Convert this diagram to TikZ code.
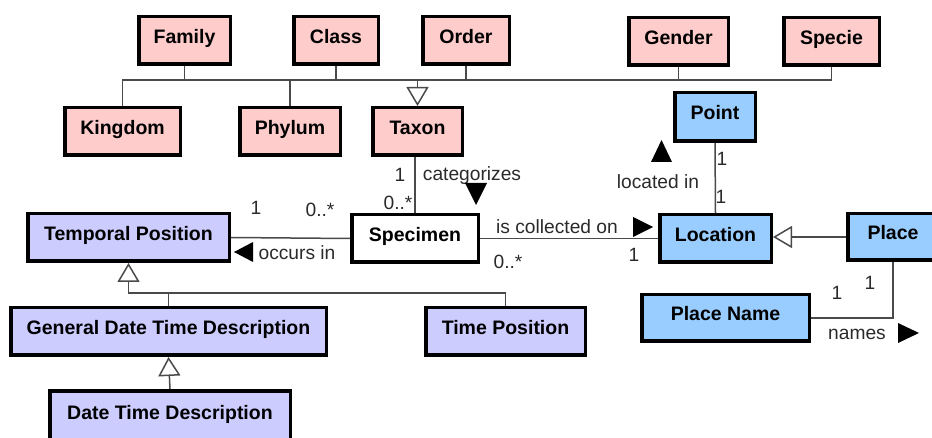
\documentclass[tikz,border=0pt]{standalone}
\usepackage{fontspec}
\setmainfont{Liberation Sans}
\usetikzlibrary{arrows.meta}
\definecolor{taxfill}{HTML}{FFCCCC}
\definecolor{geofill}{HTML}{99CCFF}
\definecolor{timefill}{HTML}{CCCCFF}
\definecolor{linkgray}{HTML}{4A4A4A}
\definecolor{labelgray}{HTML}{2A2A2A}

\begin{document}
\begin{tikzpicture}[x=1pt,y=-1pt,
  cls/.style={draw=black, line width=3.5pt, inner sep=0pt,
    font=\fontsize{19.5}{21}\selectfont\bfseries,
    text height=14pt, text depth=8pt, minimum height=47.5pt},
  taxcls/.style={cls, fill=taxfill},
  geocls/.style={cls, fill=geofill},
  timecls/.style={cls, fill=timefill},
  link/.style={draw=linkgray, line width=1.5pt},
  isa/.style={link, -{Triangle[length=19pt,width=22pt,fill=white]}},
  lbl/.style={anchor=base, inner sep=0pt, text=labelgray,
    font=\fontsize{19.2}{21}\selectfont},
  dirtip/.style={fill=black},
]
\useasboundingbox (0,0) rectangle (932,438);

% taxonomy classes
\node[taxcls, minimum width=91.5pt] (family)  at (184.5,40.5) {Family};
\node[taxcls, minimum width=84.5pt] (class)   at (336,40.5)   {Class};
\node[taxcls, minimum width=86.5pt] (order)   at (466,40.5)   {Order};
\node[taxcls, minimum width=99.5pt] (gender)  at (678.5,41.5) {Gender};
\node[taxcls, minimum width=95.5pt] (specie)  at (831.5,41.5) {Specie};
\node[taxcls, minimum width=115.5pt] (kingdom) at (122.5,131.5) {Kingdom};
\node[taxcls, minimum width=100.5pt] (phylum)  at (290,131.5)   {Phylum};
\node[taxcls, minimum width=89.5pt] (taxon)   at (417.5,131.5) {Taxon};

% spatial classes
\node[geocls, minimum width=80.5pt, minimum height=48.5pt] (point) at (715,117) {Point};
\node[geocls, minimum width=111.5pt] (location) at (715.5,238.5) {Location};
\node[geocls, minimum width=90.5pt, minimum height=46.5pt] (place) at (893,237) {Place};
\node[geocls, minimum width=167.5pt, minimum height=46.5pt] (placename) at (725.5,318) {Place Name};

% specimen
\node[cls, fill=white, minimum width=126.5pt] (specimen) at (415,238.5) {Specimen};

% temporal classes
\node[timecls, minimum width=201.5pt] (tempos)  at (128.5,237.5) {Temporal Position};
\node[timecls, minimum width=315.5pt] (gdtd)    at (168.5,331.5) {General Date Time Description};
\node[timecls, minimum width=159.5pt] (timepos) at (505.5,331.5) {Time Position};
\node[timecls, minimum width=240.5pt, minimum height=50.5pt] (dtd) at (170,416) {Date Time Description};

% taxonomy bus
\coordinate (busR) at (831.5,80);
\draw[link] (kingdom.north) |- (busR) -- (specie.south);
\draw[link] (family.south) -- (family.south |- busR);
\draw[link] (class.south)  -- (class.south |- busR);
\draw[link] (order.south)  -- (order.south |- busR);
\draw[link] (gender.south) -- (gender.south |- busR);
\draw[link] (phylum.north) -- (phylum.north |- busR);
\draw[isa] (taxon.north |- busR) -- (taxon.north);

% associations
\draw[link] (specimen.north) -- (specimen.north |- taxon.south);
\draw[link] (specimen.west) -- (tempos.east);
\draw[link] (specimen.east) -- (location.west);
\draw[link] (point.south) -- (location.north);
\draw[isa] (place.west) -- (place.west -| location.east);
\draw[link] (place.south) |- (placename.east);

% temporal hierarchy
\coordinate (tjoin) at (128.5,293);
\draw[isa] (timepos.north) |- (tjoin) -- (tempos.south);
\draw[link] (gdtd.north) -- (gdtd.north |- tjoin);
\draw[isa] (dtd.north) -- (gdtd.south);

% multiplicities and role names
\node[lbl] (m1)  at (256,215) {1};
\node[lbl] (m2)  at (320,217) {0..*};
\node[lbl] (m3)  at (400,182) {1};
\node[lbl] (m4)  at (398,210) {0..*};
\node[lbl] (r1)  at (472,181) {categorizes};
\node[lbl] (r2)  at (557,234) {is collected on};
\node[lbl] (m5)  at (508,269) {0..*};
\node[lbl] (m6)  at (634,262) {1};
\node[lbl] (r3)  at (658,189) {located in};
\node[lbl] (m7)  at (722,166) {1};
\node[lbl] (m8)  at (721,204) {1};
\node[lbl] (m9)  at (837,300) {1};
\node[lbl] (m10) at (870,290) {1};
\node[lbl] (r4)  at (857,340) {names};
\node[lbl] (r5)  at (297,260) {occurs in};

% reading-direction markers
\coordinate (dcat) at (476,194);
\coordinate (dcol) at (643,227);
\coordinate (docc) at (243.5,252);
\coordinate (dloc) at (661.5,151);
\coordinate (dnam) at (908.5,333);
\fill[dirtip] (dcat) ++(-11,-11) -- ++(22,0) -- ++(-11,22) -- cycle;
\fill[dirtip] (dcol) ++(-10,-10) -- ++(0,20) -- ++(20,-10) -- cycle;
\fill[dirtip] (docc) ++(9.5,-10) -- ++(0,20) -- ++(-19,-10) -- cycle;
\fill[dirtip] (dloc) ++(-10.5,11) -- ++(21,0) -- ++(-10.5,-22) -- cycle;
\fill[dirtip] (dnam) ++(-10.5,-10) -- ++(0,20) -- ++(21,-10) -- cycle;
\end{tikzpicture}
\end{document}
